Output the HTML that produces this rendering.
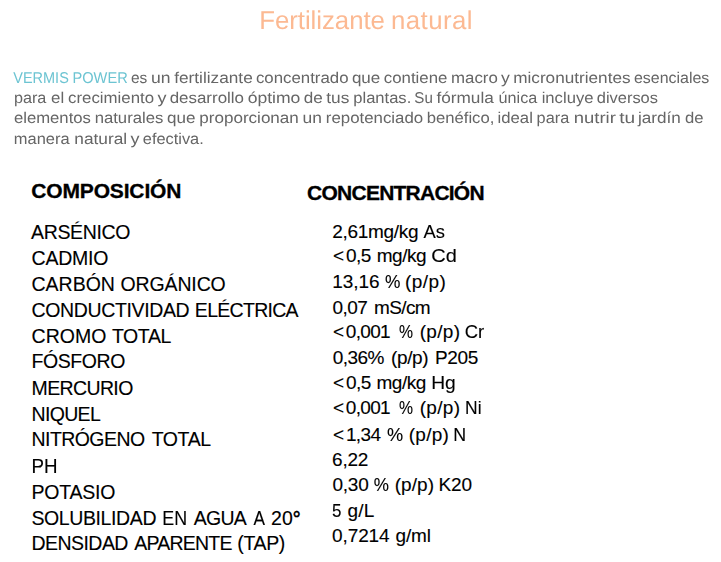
<!DOCTYPE html>
<html><head><meta charset="utf-8"><title>Fertilizante natural</title><style>
html,body{margin:0;padding:0;background:#fff;width:721px;height:562px;overflow:hidden}
body{position:relative;font-family:"Liberation Sans", sans-serif}
div{position:absolute;white-space:pre;line-height:20px;transform-origin:0 0}
.g{left:0;top:0;width:721px;height:160px;filter:opacity(0.999);text-rendering:geometricPrecision}
.h{-webkit-text-stroke:0.3px #000}
.l,.r{-webkit-text-stroke:0.12px #000}

</style></head><body>
<div class="g">
<div id="t0" class="t" style="left:259.18px;top:11.01px;font-size:25.8px;color:#fcb992;letter-spacing:-0.034px">Fertilizante</div>
<div id="t1" class="t" style="left:391.09px;top:11.01px;font-size:25.8px;color:#fcb992;letter-spacing:0.417px">natural</div>
<div id="w0_0" class="w" style="left:13px;top:69.00px;font-size:15.6px;color:#6cc4d2;padding-left:0.22px;transform:scaleX(0.93)">VERMIS</div>
<div id="w0_1" class="w" style="left:72px;top:69.00px;font-size:15.6px;color:#6cc4d2;padding-left:0.53px;transform:scaleX(0.9373)">POWER</div>
<div id="w0_2" class="w" style="left:130px;top:69.00px;font-size:15.6px;color:#666666;padding-left:1.00px;transform:scaleX(0.9908)">es</div>
<div id="w0_3" class="w" style="left:151px;top:69.00px;font-size:15.6px;color:#666666;padding-left:0.02px;transform:scaleX(1.126)">un</div>
<div id="w0_4" class="w" style="left:174px;top:69.00px;font-size:15.6px;color:#666666;padding-left:0.21px;transform:scaleX(1.1044)">fertilizante</div>
<div id="w0_5" class="w" style="left:255px;top:69.00px;font-size:15.6px;color:#666666;padding-left:0.88px;transform:scaleX(1.0786)">concentrado</div>
<div id="w0_6" class="w" style="left:351px;top:69.00px;font-size:15.6px;color:#666666;padding-left:0.82px;transform:scaleX(1.0911)">que</div>
<div id="w0_7" class="w" style="left:383px;top:69.00px;font-size:15.6px;color:#666666;padding-left:0.81px;transform:scaleX(1.0777)">contiene</div>
<div id="w0_8" class="w" style="left:451px;top:69.00px;font-size:15.6px;color:#666666;padding-left:0.06px;transform:scaleX(1.0799)">macro</div>
<div id="w0_9" class="w" style="left:500px;top:69.00px;font-size:15.6px;color:#666666;padding-left:0.80px;transform:scaleX(1.1316)">y</div>
<div id="w0_10" class="w" style="left:513px;top:69.00px;font-size:15.6px;color:#666666;padding-left:0.21px;transform:scaleX(1.1004)">micronutrientes</div>
<div id="w0_11" class="w" style="left:633px;top:69.00px;font-size:15.6px;color:#666666;padding-left:0.91px;transform:scaleX(1.023)">esenciales</div>
<div id="w1_0" class="w" style="left:13px;top:89.00px;font-size:15.6px;color:#666666;padding-left:0.89px;transform:scaleX(1.0381)">para</div>
<div id="w1_1" class="w" style="left:51px;top:89.00px;font-size:15.6px;color:#666666;padding-left:0.09px;transform:scaleX(1.0789)">el</div>
<div id="w1_2" class="w" style="left:68px;top:89.00px;font-size:15.6px;color:#666666;padding-left:0.10px;transform:scaleX(1.0784)">crecimiento</div>
<div id="w1_3" class="w" style="left:157px;top:89.00px;font-size:15.6px;color:#666666;padding-left:0.42px;transform:scaleX(1.1561)">y</div>
<div id="w1_4" class="w" style="left:169px;top:89.00px;font-size:15.6px;color:#666666;padding-left:0.61px;transform:scaleX(1.0855)">desarrollo</div>
<div id="w1_5" class="w" style="left:247px;top:89.00px;font-size:15.6px;color:#666666;padding-left:0.59px;transform:scaleX(1.126)">óptimo</div>
<div id="w1_6" class="w" style="left:303px;top:89.00px;font-size:15.6px;color:#666666;padding-left:0.78px;transform:scaleX(1.0953)">de</div>
<div id="w1_7" class="w" style="left:326px;top:89.00px;font-size:15.6px;color:#666666;padding-left:0.23px;transform:scaleX(1.1078)">tus</div>
<div id="w1_8" class="w" style="left:353px;top:89.00px;font-size:15.6px;color:#666666;padding-left:0.26px;transform:scaleX(1.0613)">plantas.</div>
<div id="w1_9" class="w" style="left:414px;top:89.00px;font-size:15.6px;color:#666666;padding-left:0.32px;transform:scaleX(0.9705)">Su</div>
<div id="w1_10" class="w" style="left:436px;top:89.00px;font-size:15.6px;color:#666666;padding-left:0.39px;transform:scaleX(1.1035)">fórmula</div>
<div id="w1_11" class="w" style="left:498px;top:89.00px;font-size:15.6px;color:#666666;padding-left:0.58px;transform:scaleX(1.037)">única</div>
<div id="w1_12" class="w" style="left:541px;top:89.00px;font-size:15.6px;color:#666666;padding-left:0.64px;transform:scaleX(1.0672)">incluye</div>
<div id="w1_13" class="w" style="left:596px;top:89.00px;font-size:15.6px;color:#666666;padding-left:0.75px;transform:scaleX(1.0536)">diversos</div>
<div id="w2_0" class="w" style="left:13px;top:109.00px;font-size:15.6px;color:#666666;padding-left:0.86px;transform:scaleX(1.0699)">elementos</div>
<div id="w2_1" class="w" style="left:94px;top:109.00px;font-size:15.6px;color:#666666;padding-left:0.64px;transform:scaleX(1.0699)">naturales</div>
<div id="w2_2" class="w" style="left:167px;top:109.00px;font-size:15.6px;color:#666666;padding-left:0.05px;transform:scaleX(1.0941)">que</div>
<div id="w2_3" class="w" style="left:199px;top:109.00px;font-size:15.6px;color:#666666;padding-left:0.22px;transform:scaleX(1.0942)">proporcionan</div>
<div id="w2_4" class="w" style="left:302px;top:109.00px;font-size:15.6px;color:#666666;padding-left:0.47px;transform:scaleX(1.1179)">un</div>
<div id="w2_5" class="w" style="left:325px;top:109.00px;font-size:15.6px;color:#666666;padding-left:0.75px;transform:scaleX(1.0793)">repotenciado</div>
<div id="w2_6" class="w" style="left:426px;top:109.00px;font-size:15.6px;color:#666666;padding-left:0.65px;transform:scaleX(1.0684)">benéfico,</div>
<div id="w2_7" class="w" style="left:497px;top:109.00px;font-size:15.6px;color:#666666;padding-left:0.55px;transform:scaleX(1.0711)">ideal</div>
<div id="w2_8" class="w" style="left:536px;top:109.00px;font-size:15.6px;color:#666666;padding-left:0.60px;transform:scaleX(1.0443)">para</div>
<div id="w2_9" class="w" style="left:573px;top:109.00px;font-size:15.6px;color:#666666;padding-left:0.60px;transform:scaleX(1.1858)">nutrir</div>
<div id="w2_10" class="w" style="left:619px;top:109.00px;font-size:15.6px;color:#666666;padding-left:0.19px;transform:scaleX(1.2258)">tu</div>
<div id="w2_11" class="w" style="left:638px;top:109.00px;font-size:15.6px;color:#666666;padding-left:0.01px;transform:scaleX(1.098)">jardín</div>
<div id="w2_12" class="w" style="left:684px;top:109.00px;font-size:15.6px;color:#666666;padding-left:0.87px;transform:scaleX(1.0681)">de</div>
<div id="w3_0" class="w" style="left:13px;top:129.50px;font-size:15.6px;color:#666666;padding-left:0.83px;transform:scaleX(1.0543)">manera</div>
<div id="w3_1" class="w" style="left:74px;top:129.50px;font-size:15.6px;color:#666666;padding-left:0.27px;transform:scaleX(1.1081)">natural</div>
<div id="w3_2" class="w" style="left:130px;top:129.50px;font-size:15.6px;color:#666666;padding-left:0.42px;transform:scaleX(1.1561)">y</div>
<div id="w3_3" class="w" style="left:142px;top:129.50px;font-size:15.6px;color:#666666;padding-left:0.81px;transform:scaleX(1.0491)">efectiva.</div>
</div>
<div id="h1" class="h" style="left:31.22px;top:181.00px;font-size:21px;color:#000000;letter-spacing:-0.148px;font-weight:700">COMPOSICIÓN</div>
<div id="h2" class="h" style="left:307.12px;top:183.00px;font-size:21px;color:#000000;letter-spacing:-0.764px;font-weight:700">CONCENTRACIÓN</div>
<div id="l0_0" class="l" style="left:31.10px;top:221.51px;font-size:19.5px;color:#000000;letter-spacing:-0.366px">ARSÉNICO</div>
<div id="l1_0" class="l" style="left:31.54px;top:247.90px;font-size:19.5px;color:#000000;letter-spacing:-0.217px">CADMIO</div>
<div id="l2_0" class="l" style="left:31.54px;top:273.51px;font-size:19.5px;color:#000000;letter-spacing:-0.016px">CARBÓN</div>
<div id="l2_1" class="l" style="left:120.57px;top:273.51px;font-size:19.5px;color:#000000;letter-spacing:-0.139px">ORGÁNICO</div>
<div id="l3_0" class="l" style="left:31.54px;top:299.71px;font-size:19.5px;color:#000000;letter-spacing:-0.364px">CONDUCTIVIDAD</div>
<div id="l3_1" class="l" style="left:194.84px;top:299.71px;font-size:19.5px;color:#000000;letter-spacing:-0.709px">ELÉCTRICA</div>
<div id="l4_0" class="l" style="left:31.54px;top:325.71px;font-size:19.5px;color:#000000;letter-spacing:0.044px">CROMO</div>
<div id="l4_1" class="l" style="left:111.92px;top:325.71px;font-size:19.5px;color:#000000;letter-spacing:-0.406px">TOTAL</div>
<div id="l5_0" class="l" style="left:31.52px;top:351.40px;font-size:19.5px;color:#000000;letter-spacing:-0.436px">FÓSFORO</div>
<div id="l6_0" class="l" style="left:31.52px;top:377.51px;font-size:19.5px;color:#000000;letter-spacing:-0.623px">MERCURIO</div>
<div id="l7_0" class="l" style="left:31.52px;top:403.61px;font-size:19.5px;color:#000000;letter-spacing:-0.666px">NIQUEL</div>
<div id="l8_0" class="l" style="left:31.52px;top:429.21px;font-size:19.5px;color:#000000;letter-spacing:-0.562px">NITRÓGENO</div>
<div id="l8_1" class="l" style="left:151.65px;top:429.21px;font-size:19.5px;color:#000000;letter-spacing:-0.378px">TOTAL</div>
<div id="l9_0" class="l" style="left:31px;top:455.90px;font-size:19.5px;color:#000000;padding-left:0.57px;transform:scaleX(0.9595)">PH</div>
<div id="l10_0" class="l" style="left:31.52px;top:481.80px;font-size:19.5px;color:#000000;letter-spacing:-0.224px">POTASIO</div>
<div id="l11_0" class="l" style="left:31.38px;top:507.51px;font-size:19.5px;color:#000000;letter-spacing:-0.382px">SOLUBILIDAD</div>
<div id="l11_1" class="l" style="left:162px;top:507.51px;font-size:19.5px;color:#000000;padding-left:0.40px;transform:scaleX(0.9161)">EN</div>
<div id="l11_2" class="l" style="left:193.74px;top:507.51px;font-size:19.5px;color:#000000;letter-spacing:-0.725px">AGUA</div>
<div id="l11_3" class="l" style="left:253px;top:507.51px;font-size:19.5px;color:#000000;padding-left:0.57px;transform:scaleX(0.8836)">A</div>
<div id="l11_4" class="l" style="left:271.06px;top:507.51px;font-size:19.5px;color:#000000;letter-spacing:0.020px">20<b>°</b></div>
<div id="l12_0" class="l" style="left:31.52px;top:533.21px;font-size:19.5px;color:#000000;letter-spacing:-0.550px">DENSIDAD</div>
<div id="l12_1" class="l" style="left:134.19px;top:533.21px;font-size:19.5px;color:#000000;letter-spacing:-0.769px">APARENTE</div>
<div id="l12_2" class="l" style="left:237.34px;top:533.21px;font-size:19.5px;color:#000000;letter-spacing:-0.361px">(TAP)</div>
<div id="r0_0" class="r" style="left:332.26px;top:221.80px;font-size:19px;color:#000000;letter-spacing:-0.294px">2,61mg/kg</div>
<div id="r0_1" class="r" style="left:423px;top:221.80px;font-size:19px;color:#000000;padding-left:0.54px;transform:scaleX(0.9669)">As</div>
<div id="r1_0" class="r" style="left:332.88px;top:246.30px;font-size:19px;color:#000000;letter-spacing:-0.491px"><span style="margin-right:2.5px">&lt;</span>0,5</div>
<div id="r1_1" class="r" style="left:376.75px;top:246.30px;font-size:19px;color:#000000;letter-spacing:-0.479px">mg/kg</div>
<div id="r1_2" class="r" style="left:431px;top:246.30px;font-size:19px;color:#000000;padding-left:0.22px;transform:scaleX(1.0493)">Cd</div>
<div id="r2_0" class="r" style="left:332.24px;top:272.01px;font-size:19px;color:#000000;letter-spacing:-0.077px">13,16</div>
<div id="r2_1" class="r" style="left:384px;top:272.01px;font-size:19px;color:#000000;padding-left:1.00px;transform:scaleX(0.9118)">%</div>
<div id="r2_2" class="r" style="left:404.89px;top:272.01px;font-size:19px;color:#000000;letter-spacing:0.453px">(p/p)</div>
<div id="r3_0" class="r" style="left:332.43px;top:297.51px;font-size:19px;color:#000000;letter-spacing:-0.504px">0,07</div>
<div id="r3_1" class="r" style="left:374.00px;top:297.51px;font-size:19px;color:#000000;letter-spacing:-0.623px">mS/cm</div>
<div id="r4_0" class="r" style="left:332.93px;top:322.21px;font-size:19px;color:#000000;letter-spacing:-0.676px"><span style="margin-right:2.5px">&lt;</span>0,001</div>
<div id="r4_1" class="r" style="left:399px;top:322.21px;font-size:19px;color:#000000;padding-left:0.05px;transform:scaleX(0.8296)">%</div>
<div id="r4_2" class="r" style="left:419.69px;top:322.21px;font-size:19px;color:#000000;letter-spacing:0.312px">(p/p)</div>
<div id="r4_3" class="r" style="left:464px;top:322.21px;font-size:19px;color:#000000;padding-left:0.74px;transform:scaleX(0.9679)">Cr</div>
<div id="r5_0" class="r" style="left:332.66px;top:348.11px;font-size:19px;color:#000000;letter-spacing:-0.517px">0,36%</div>
<div id="r5_1" class="r" style="left:391.09px;top:348.11px;font-size:19px;color:#000000;letter-spacing:-0.401px">(p/p)</div>
<div id="r5_2" class="r" style="left:434.98px;top:348.11px;font-size:19px;color:#000000;letter-spacing:-0.351px">P205</div>
<div id="r6_0" class="r" style="left:332.88px;top:373.21px;font-size:19px;color:#000000;letter-spacing:-0.528px"><span style="margin-right:2.5px">&lt;</span>0,5</div>
<div id="r6_1" class="r" style="left:376.43px;top:373.21px;font-size:19px;color:#000000;letter-spacing:-0.441px">mg/kg</div>
<div id="r6_2" class="r" style="left:431px;top:373.21px;font-size:19px;color:#000000;padding-left:0.13px;transform:scaleX(1.0121)">Hg</div>
<div id="r7_0" class="r" style="left:332.93px;top:398.21px;font-size:19px;color:#000000;letter-spacing:-0.676px"><span style="margin-right:2.5px">&lt;</span>0,001</div>
<div id="r7_1" class="r" style="left:399px;top:398.21px;font-size:19px;color:#000000;padding-left:0.05px;transform:scaleX(0.8296)">%</div>
<div id="r7_2" class="r" style="left:419.69px;top:398.21px;font-size:19px;color:#000000;letter-spacing:0.312px">(p/p)</div>
<div id="r7_3" class="r" style="left:465px;top:398.21px;font-size:19px;color:#000000;padding-left:0.12px;transform:scaleX(0.918)">Ni</div>
<div id="r8_0" class="r" style="left:332.88px;top:424.51px;font-size:19px;color:#000000;letter-spacing:-0.603px"><span style="margin-right:2.5px">&lt;</span>1,34</div>
<div id="r8_1" class="r" style="left:387px;top:424.51px;font-size:19px;color:#000000;transform:scaleX(0.9557)">%</div>
<div id="r8_2" class="r" style="left:408.76px;top:424.51px;font-size:19px;color:#000000;letter-spacing:0.241px">(p/p)</div>
<div id="r8_3" class="r" style="left:453px;top:424.51px;font-size:19px;color:#000000;padding-left:0.35px;transform:scaleX(0.9388)">N</div>
<div id="r9_0" class="r" style="left:332.11px;top:449.80px;font-size:19px;color:#000000;letter-spacing:-0.248px">6,22</div>
<div id="r10_0" class="r" style="left:332.38px;top:474.80px;font-size:19px;color:#000000;letter-spacing:-0.179px">0,30</div>
<div id="r10_1" class="r" style="left:373px;top:474.80px;font-size:19px;color:#000000;padding-left:0.86px;transform:scaleX(0.8996)">%</div>
<div id="r10_2" class="r" style="left:394.70px;top:474.80px;font-size:19px;color:#000000;letter-spacing:0.087px">(p/p)</div>
<div id="r10_3" class="r" style="left:438.61px;top:474.80px;font-size:19px;color:#000000;letter-spacing:-0.236px">K20</div>
<div id="r11_0" class="r" style="left:332px;top:500.90px;font-size:19px;color:#000000;padding-left:0.03px;transform:scaleX(0.8922)">5</div>
<div id="r11_1" class="r" style="left:347.60px;top:500.90px;font-size:19px;color:#000000;letter-spacing:0.142px">g/L</div>
<div id="r12_0" class="r" style="left:332.05px;top:526.11px;font-size:19px;color:#000000;letter-spacing:-0.101px">0,7214</div>
<div id="r12_1" class="r" style="left:395.57px;top:526.11px;font-size:19px;color:#000000;letter-spacing:-0.188px">g/ml</div>
</body></html>
